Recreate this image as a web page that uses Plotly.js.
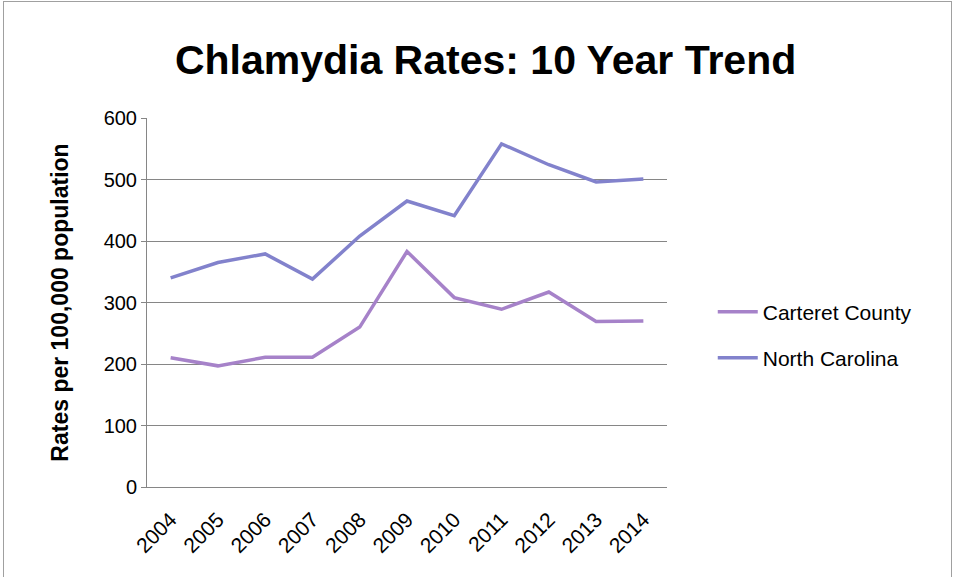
<!DOCTYPE html>
<html>
<head>
<meta charset="utf-8">
<script src="https://cdn.plot.ly/plotly-3.0.1.min.js"></script>
<style>
  html, body { margin: 0; padding: 0; background: #fff; }
  #wrap { position: relative; width: 954px; height: 577px; }
  #chart { width: 954px; height: 577px; }
  #frame { position: absolute; left: 3px; top: 1px; width: 947px; height: 580px; border: 1px solid #a0a0a0; pointer-events: none; }
</style>
</head>
<body>
<div id="wrap">
  <div id="chart"></div>
  <div id="frame"></div>
</div>
<script>
const years = ['2004','2005','2006','2007','2008','2009','2010','2011','2012','2013','2014'];
const carteretCounty = [210, 197, 211, 211, 260, 383, 308, 289, 317, 269, 270];
const northCarolina = [340, 365, 379, 338, 408, 465, 441, 558, 524, 496, 501];
const seriesNames = ['Carteret County', 'North Carolina'];
const yTicks = [0, 100, 200, 300, 400, 500, 600];

const FONT = 'Liberation Sans, Arial, sans-serif';

const traces = [
  { x: years, y: carteretCounty, name: seriesNames[0], type: 'scatter', mode: 'lines',
    line: { color: '#a682c9', width: 3.5 }, legend: 'legend' },
  { x: years, y: northCarolina, name: seriesNames[1], type: 'scatter', mode: 'lines',
    line: { color: '#8282cc', width: 3.5 }, legend: 'legend2' }
];

const legendBase = { x: 1.088, xanchor: 'left', yanchor: 'middle', font: { size: 21 },
                     bgcolor: 'rgba(0,0,0,0)', itemwidth: 40 };

const layout = {
  width: 954, height: 577,
  margin: { l: 147, r: 287, t: 118, b: 90 },
  paper_bgcolor: '#ffffff', plot_bgcolor: '#ffffff',
  font: { family: FONT, color: '#000000', size: 20 },
  title: { text: '<b>Chlamydia Rates: 10 Year Trend</b>', xref: 'container', x: 0.509, xanchor: 'center',
           yref: 'container', y: 0.897, yanchor: 'middle', font: { family: FONT, size: 41, color: '#000' } },
  xaxis: {
    type: 'category', tickvals: years, ticktext: years, tickangle: -45,
    showline: true, linecolor: '#868686', linewidth: 1, mirror: false,
    showgrid: false, zeroline: false, ticks: '', tickfont: { size: 21 },
    ticklabelstandoff: 11,
    range: [-0.5, years.length - 0.5]
  },
  yaxis: {
    range: [0, 600], tickvals: yTicks, ticktext: yTicks.map(String),
    showline: true, linecolor: '#868686', linewidth: 1,
    showgrid: true, gridcolor: '#868686', gridwidth: 1, zeroline: false,
    ticks: 'outside', ticklen: 5, tickcolor: '#868686', tickfont: { size: 20 },
    title: { text: '<b>Rates per 100,000 population</b>', font: { size: 23 }, standoff: 28 }
  },
  showlegend: true,
  legend: Object.assign({}, legendBase, { y: (487 - 312) / 369 }),
  legend2: Object.assign({}, legendBase, { y: (487 - 358) / 369 })
};

Plotly.newPlot('chart', traces, layout, { displayModeBar: false, staticPlot: true });
</script>
</body>
</html>
